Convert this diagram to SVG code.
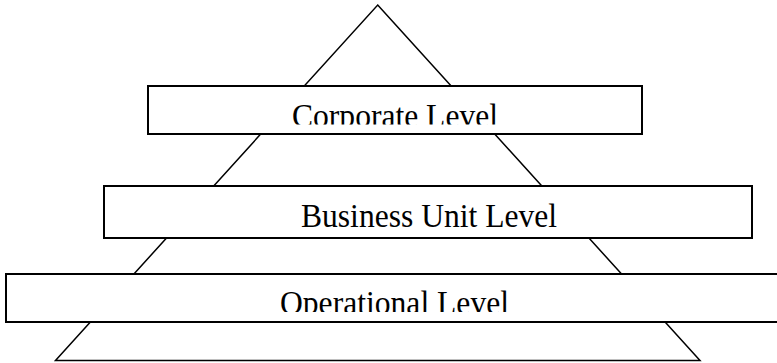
<svg xmlns="http://www.w3.org/2000/svg" width="777" height="363" viewBox="0 0 777 363">
  <style>
    .tri { fill: #ffffff; stroke: #000000; stroke-width: 1.5; stroke-linejoin: miter; }
    .box { fill: #ffffff; stroke: #000000; stroke-width: 2; }
    .lbl { font-family: "Liberation Serif", "Times New Roman", serif; font-size: 34px; fill: #000000; text-anchor: middle; }
  </style>
  <defs>
    <clipPath id="clipCorp"><rect x="148" y="86" width="494" height="38.5"/></clipPath>
    <clipPath id="clipBiz"><rect x="104" y="186" width="648" height="52"/></clipPath>
    <clipPath id="clipOps"><rect x="6" y="274" width="777" height="38"/></clipPath>
  </defs>
  <rect x="0" y="0" width="777" height="363" fill="#ffffff"/>
  <g id="pyramid">
    <polygon class="tri" points="377.7,5 700,360.5 55.5,360.5"/>
  </g>
  <g id="corporate-level">
    <rect class="box" x="148" y="86" width="494" height="48"/>
    <text class="lbl" x="395" y="126.5" textLength="206" lengthAdjust="spacingAndGlyphs" clip-path="url(#clipCorp)">Corporate Level</text>
  </g>
  <g id="business-unit-level">
    <rect class="box" x="104" y="186" width="648" height="52"/>
    <text class="lbl" x="429" y="227" textLength="256" lengthAdjust="spacingAndGlyphs" clip-path="url(#clipBiz)">Business Unit Level</text>
  </g>
  <g id="operational-level">
    <rect class="box" x="6" y="274" width="777" height="48"/>
    <text class="lbl" x="394.5" y="314" textLength="229" lengthAdjust="spacingAndGlyphs" clip-path="url(#clipOps)">Operational Level</text>
  </g>
</svg>
